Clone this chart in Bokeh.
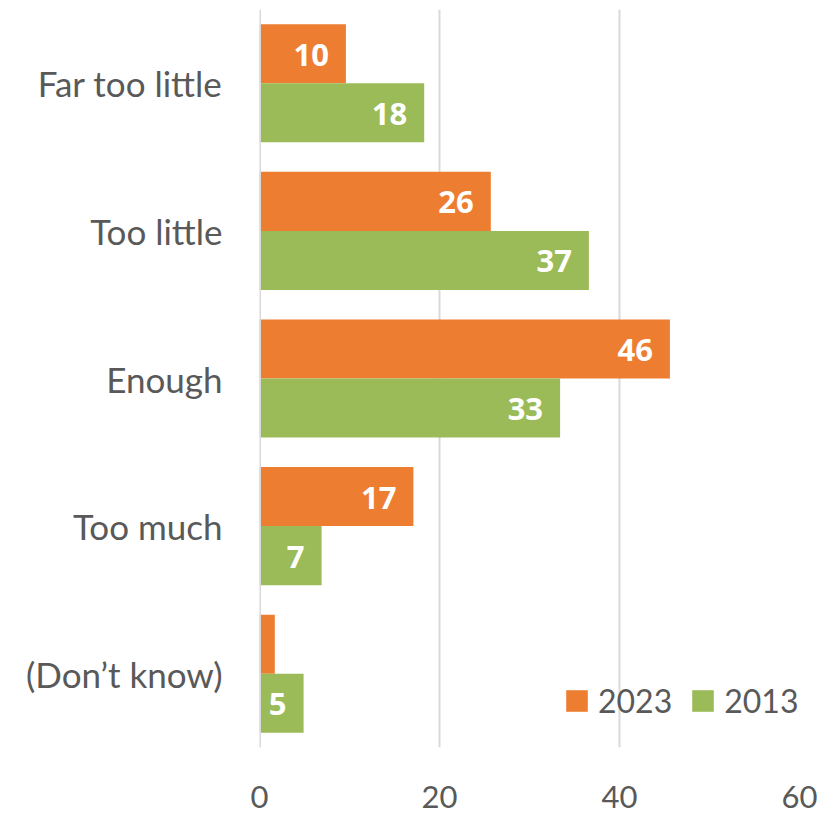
from bokeh.plotting import figure
from bokeh.models import ColumnDataSource, FactorRange, Legend, LegendItem, Span
from bokeh.core.properties import value
from bokeh.transform import dodge
from bokeh.embed import file_html
from bokeh.resources import INLINE

categories = ["Far too little", "Too little", "Enough", "Too much", "(Don\u2019t know)"]
values_2023 = [9.6, 25.7, 45.6, 17.1, 1.7]
values_2013 = [18.3, 36.6, 33.4, 6.9, 4.9]
labels_2023 = ["10", "26", "46", "17", ""]
labels_2013 = ["18", "37", "33", "7", "5"]
x_ticks = [0, 20, 40, 60]

FONT = "Lato"
BOLD_FONT = "Noto Sans"
GREY = "#595959"
ORANGE = "#ED7D31"
GREEN = "#9BBB59"
GRID = "#D9D9D9"

src = ColumnDataSource(dict(cat=categories, v23=values_2023, v13=values_2013,
                            l23=labels_2023, l13=labels_2013))

p = figure(width=834, height=813, output_backend="svg", toolbar_location=None,
           y_range=FactorRange(*reversed(categories)), x_range=(0, 60),
           min_border_left=259, min_border_right=35, min_border_top=9, min_border_bottom=66)
p.outline_line_color = None

r23 = p.hbar(y=dodge("cat", 0.2, range=p.y_range), right="v23", left=0, height=0.4,
             source=src, fill_color=ORANGE, line_color=None)
r13 = p.hbar(y=dodge("cat", -0.2, range=p.y_range), right="v13", left=0, height=0.4,
             source=src, fill_color=GREEN, line_color=None)

p.add_layout(Span(location=0, dimension="height", line_color=GRID, line_width=3))

p.text(x="v23", y=dodge("cat", 0.2, range=p.y_range), text="l23", source=src,
       text_align="right", text_baseline="middle", x_offset=-17, y_offset=1, text_color="white",
       text_font=value(BOLD_FONT), text_font_style="bold", text_font_size="31px")
p.text(x="v13", y=dodge("cat", -0.2, range=p.y_range), text="l13", source=src,
       text_align="right", text_baseline="middle", x_offset=-17, y_offset=1, text_color="white",
       text_font=value(BOLD_FONT), text_font_style="bold", text_font_size="31px")

p.xaxis.ticker = x_ticks
p.xaxis.axis_line_color = None
p.xaxis.major_tick_line_color = None
p.xaxis.minor_tick_line_color = None
p.xaxis.major_label_text_font = FONT
p.xaxis.major_label_text_font_size = "31px"
p.xaxis.major_label_text_color = GREY
p.xaxis.major_label_standoff = 32

p.yaxis.axis_line_color = None
p.yaxis.major_tick_line_color = None
p.yaxis.minor_tick_line_color = None
p.yaxis.major_label_text_font = FONT
p.yaxis.major_label_text_font_size = "35px"
p.yaxis.major_label_text_color = GREY
p.yaxis.major_label_standoff = 31

p.ygrid.grid_line_color = None
p.xgrid.grid_line_color = GRID
p.xgrid.grid_line_width = 2

legend = Legend(items=[LegendItem(label="2023", renderers=[r23]),
                       LegendItem(label="2013", renderers=[r13])],
                orientation="horizontal", location="bottom_right",
                background_fill_alpha=0, border_line_color=None,
                label_text_font=FONT, label_text_font_size="32px", label_text_color=GREY,
                glyph_width=27, glyph_height=27, spacing=17, label_standoff=8,
                margin=0, padding=0)
legend.location = (304, 27)
p.add_layout(legend)

open("out.html", "w").write(file_html(p, INLINE))
